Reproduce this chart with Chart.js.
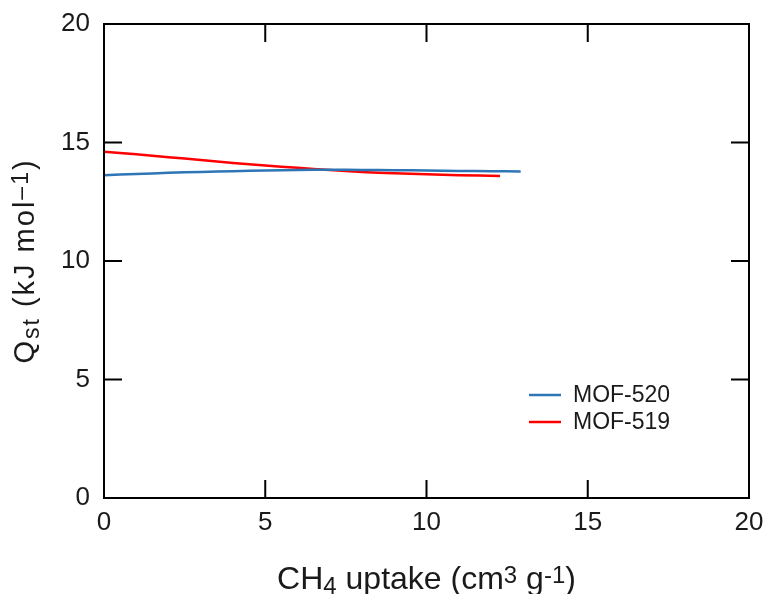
<!DOCTYPE html>
<html lang="en">
<head>
  <meta charset="UTF-8">
  <title>Qst vs CH4 uptake</title>
  <script src="https://cdn.jsdelivr.net/npm/chart.js"></script>
  <style>
    body { margin: 0; background: #fff; }
  </style>
</head>
<body>
  <canvas id="qstChart" width="766" height="594"></canvas>

  <script>
    // values
    const mof520X = [0, 1, 2, 3, 4, 5, 6, 7, 8, 9, 10, 11, 12, 12.92];
    const mof520Y = [13.62, 13.67, 13.72, 13.76, 13.79, 13.82, 13.84, 13.85, 13.84, 13.83, 13.82, 13.8, 13.79, 13.78];
    const mof519X = [0, 1, 2, 3, 4, 5, 6, 7, 8, 9, 10, 11, 12.28];
    const mof519Y = [14.61, 14.5, 14.38, 14.26, 14.14, 14.03, 13.93, 13.84, 13.76, 13.7, 13.66, 13.62, 13.59];
    const seriesNames = ['MOF-520', 'MOF-519'];
    const seriesColors = ['#2e75b6', '#ff0000'];
    const tickValues = [0, 5, 10, 15, 20];

    const textColor = '#1a1a1a';
    const fontFamily = '"Liberation Sans", Arial, sans-serif';

    function toPoints(xs, ys) {
      return xs.map((x, i) => ({ x: x, y: ys[i] }));
    }

    // draws text made of normal / sub / sup pieces, centred on (x, y)
    function drawRich(ctx, segs, x, y, angle, size, small, spacing) {
      ctx.save();
      ctx.translate(x, y);
      ctx.rotate(angle);
      ctx.fillStyle = textColor;
      ctx.textBaseline = 'alphabetic';
      ctx.textAlign = 'left';
      ctx.letterSpacing = (spacing || 0) + 'px';
      let total = 0;
      const widths = segs.map(s => {
        ctx.font = (s[1] === 'n' ? size : small) + 'px ' + fontFamily;
        const w = ctx.measureText(s[0]).width;
        total += w;
        return w;
      });
      let cur = -total / 2;
      segs.forEach((s, i) => {
        ctx.font = (s[1] === 'n' ? size : small) + 'px ' + fontFamily;
        let dy = 0;
        if (s[1] === 'sub') dy = 5;
        if (s[1] === 'sup') dy = -6;
        ctx.fillText(s[0], cur, dy);
        cur += widths[i];
      });
      ctx.restore();
    }

    const framePlugin = {
      id: 'frame',
      afterDraw(chart) {
        const ctx = chart.ctx;
        const area = chart.chartArea;
        const xs = chart.scales.x;
        const ys = chart.scales.y;
        const tl = 18;

        ctx.save();
        ctx.strokeStyle = '#000';
        ctx.lineWidth = 2;
        ctx.strokeRect(area.left, area.top, area.right - area.left, area.bottom - area.top);

        // inward ticks on all four sides
        ctx.beginPath();
        tickValues.slice(1, -1).forEach(v => {
          const px = xs.getPixelForValue(v);
          ctx.moveTo(px, area.bottom); ctx.lineTo(px, area.bottom - tl);
          ctx.moveTo(px, area.top); ctx.lineTo(px, area.top + tl);
          const py = ys.getPixelForValue(v);
          ctx.moveTo(area.left, py); ctx.lineTo(area.left + tl, py);
          ctx.moveTo(area.right, py); ctx.lineTo(area.right - tl, py);
        });
        ctx.stroke();

        // legend
        ctx.font = '23px ' + fontFamily;
        ctx.textBaseline = 'middle';
        ctx.textAlign = 'left';
        chart.data.datasets.forEach((ds, i) => {
          const y = 395 + i * 27;
          ctx.strokeStyle = ds.borderColor;
          ctx.lineWidth = 2.5;
          ctx.beginPath();
          ctx.moveTo(529, y); ctx.lineTo(561, y);
          ctx.stroke();
          ctx.fillStyle = textColor;
          ctx.fillText(ds.label, 573, y + 1);
        });
        ctx.restore();

        // axis titles
        const cx = (area.left + area.right) / 2;
        const cy = (area.top + area.bottom) / 2;
        drawRich(ctx, [['CH', 'n'], ['4', 'sub'], [' uptake (cm', 'n'], ['3', 'sup'], [' g', 'n'], ['-1', 'sup'], [')', 'n']],
          cx, 589, 0, 32, 24, 0);
        drawRich(ctx, [['Q', 'n'], ['st', 'sub'], [' (kJ mol', 'n'], ['\u20131', 'sup'], [')', 'n']],
          34, cy, -Math.PI / 2, 29, 23, 2);
      }
    };

    const ctx = document.getElementById('qstChart').getContext('2d');
    const qstChart = new Chart(ctx, {
      type: 'line',
      data: {
        datasets: [{
          label: seriesNames[0],
          data: toPoints(mof520X, mof520Y),
          borderColor: seriesColors[0],
          borderWidth: 2.5,
          pointRadius: 0,
          tension: 0.4,
          fill: false
        }, {
          label: seriesNames[1],
          data: toPoints(mof519X, mof519Y),
          borderColor: seriesColors[1],
          borderWidth: 2.5,
          pointRadius: 0,
          tension: 0.4,
          fill: false
        }]
      },
      options: {
        responsive: false,
        animation: false,
        layout: { padding: { top: 24, right: 17, left: 0, bottom: 0 } },
        plugins: {
          legend: { display: false },
          tooltip: { enabled: false }
        },
        scales: {
          x: {
            type: 'linear',
            min: 0,
            max: 20,
            afterBuildTicks: s => { s.ticks = tickValues.map(v => ({ value: v })); },
            afterFit: s => { s.height = 96; s.paddingLeft = 0; s.paddingRight = 0; },
            grid: { display: false, drawTicks: false },
            border: { display: false },
            ticks: { font: { size: 26, family: fontFamily }, color: textColor, padding: 9, maxRotation: 0 }
          },
          y: {
            type: 'linear',
            min: 0,
            max: 20,
            afterBuildTicks: s => { s.ticks = tickValues.map(v => ({ value: v })); },
            afterFit: s => { s.width = 104; s.paddingTop = 0; s.paddingBottom = 0; },
            grid: { display: false, drawTicks: false },
            border: { display: false },
            ticks: { font: { size: 26, family: fontFamily }, color: textColor, padding: 14 }
          }
        }
      },
      plugins: [framePlugin]
    });
  </script>
</body>
</html>
